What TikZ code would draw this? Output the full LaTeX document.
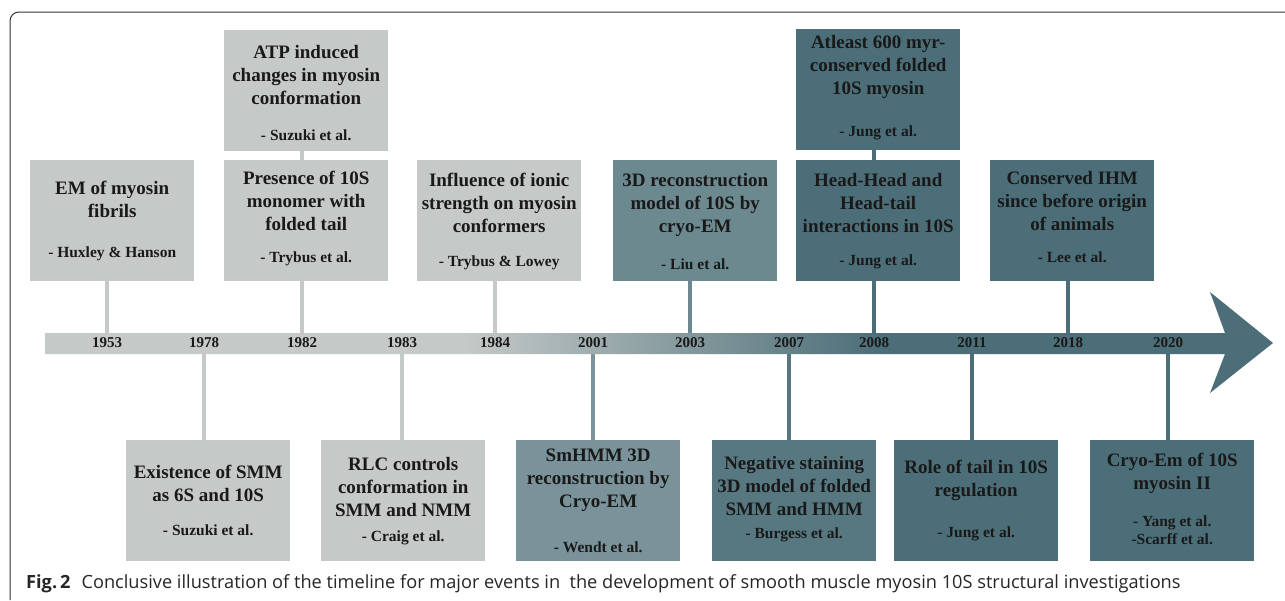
\documentclass[tikz,border=0pt]{standalone}
\usepackage{fontspec}
\setmainfont{Liberation Serif}
\newfontfamily\capfamily{Open Sans}
\newcommand\evttlfont{\fontsize{19}{23}\selectfont\bfseries}
\newcommand\evauthfont{\fontsize{15.5}{18.5}\selectfont\bfseries}
\newcommand\evyrfont{\fontsize{15}{18}\selectfont\bfseries}
\newcommand\evcapfont{\capfamily\fontsize{18.2}{21}\selectfont}
\definecolor{light}{HTML}{C5CAC8}
\definecolor{midA}{HTML}{7A939A}
\definecolor{midB}{HTML}{6D8990}
\definecolor{midC}{HTML}{587881}
\definecolor{dark}{HTML}{4C6E78}
\definecolor{framec}{HTML}{333333}
\pgfdeclarehorizontalshading{barshade}{100bp}{color(0bp)=(light); color(42bp)=(light); color(59bp)=(dark); color(100bp)=(dark)}
\tikzset{
  evbox/.style={minimum width=164pt, minimum height=121pt, inner sep=0pt, anchor=north west, draw=none},
  ttl/.style={font=\evttlfont, align=center, inner sep=0pt, text=black!90},
  auth/.style={font=\evauthfont, align=center, inner sep=0pt, text=black!90},
  yr/.style={font=\evyrfont, inner sep=0pt, text=black!90},
  stem/.style={line width=4pt},
}
\begin{document}
\begin{tikzpicture}[x=1pt,y=-1pt]
\useasboundingbox (0,0) rectangle (1285,600);
\fill[white] (0,0) rectangle (1285,600);
% frame
\draw[framec, line width=1pt, rounded corners=9pt] (10,600) -- (10,12) -- (1285,12);

% year coordinates on bar
\coordinate (y1953) at (107,343);
\coordinate (y1978) at (204,343);
\coordinate (y1982) at (302,343);
\coordinate (y1983) at (402,343);
\coordinate (y1984) at (495,343);
\coordinate (y2001) at (593,343);
\coordinate (y2003) at (690,343);
\coordinate (y2007) at (789,343);
\coordinate (y2008) at (874,343);
\coordinate (y2011) at (972,343);
\coordinate (y2018) at (1068,343);
\coordinate (y2020) at (1168,343);

% boxes
\node[evbox, fill=light] (em) at (30,160) {};
\node[evbox, fill=light] (atp) at (224,30) {};
\node[evbox, fill=light] (pres) at (224,160) {};
\node[evbox, fill=light] (infl) at (417,160) {};
\node[evbox, fill=midB] (rec) at (613,160) {};
\node[evbox, fill=dark] (atl) at (796,29) {};
\node[evbox, fill=dark] (head) at (796,160) {};
\node[evbox, fill=dark] (cons) at (990,160) {};
\node[evbox, fill=light] (exi) at (126,440) {};
\node[evbox, fill=light] (rlc) at (321,440) {};
\node[evbox, fill=midA] (smh) at (516,440) {};
\node[evbox, fill=midC] (neg) at (712,440) {};
\node[evbox, fill=dark] (role) at (894,440) {};
\node[evbox, fill=dark] (cryo) at (1090,440) {};

% stems (drawn under the bar)
\draw[stem, light] (em.south -| y1953) -- (y1953);
\draw[stem, light] (atp.south -| y1982) -- (pres.north -| y1982);
\draw[stem, light] (pres.south -| y1982) -- (y1982);
\draw[stem, light] (infl.south -| y1984) -- (y1984);
\draw[stem, midB] (rec.south -| y2003) -- (y2003);
\draw[stem, dark] (atl.south -| y2008) -- (head.north -| y2008);
\draw[stem, dark] (head.south -| y2008) -- (y2008);
\draw[stem, dark] (cons.south -| y2018) -- (y2018);
\draw[stem, light] (exi.north -| y1978) -- (y1978);
\draw[stem, light] (rlc.north -| y1983) -- (y1983);
\draw[stem, midA] (smh.north -| y2001) -- (y2001);
\draw[stem, midC] (neg.north -| y2007) -- (y2007);
\draw[stem, dark] (role.north -| y2011) -- (y2011);
\draw[stem, dark] (cryo.north -| y2020) -- (y2020);

% timeline bar with arrow
\shade[shading=barshade] (45,333) -- (1225,333) -- (1210,292) -- (1273,343) -- (1210,393) -- (1225,354) -- (45,354) -- cycle;

% years
\foreach \y in {1953,1978,1982,1983,1984,2001,2003,2007,2008,2011,2018,2020}
  \node[yr] (lbl\y) at (y\y) {\y};

% titles and authors
\node[ttl] (emT) at (em.center |- 0,199) {EM of myosin\\fibrils};
\node[auth] (emA) at (em.center |- 0,254) {- Huxley \& Hanson};
\node[ttl] (atpT) at (atp.center |- 0,75) {ATP induced\\changes in myosin\\conformation};
\node[auth] (atpA) at (atp.center |- 0,135) {- Suzuki et al.};
\node[ttl] (presT) at (pres.center |- 0,201) {Presence of 10S\\monomer with\\folded tail};
\node[auth] (presA) at (pres.center |- 0,259) {- Trybus et al.};
\node[ttl] (inflT) at (infl.center |- 0,203) {Influence of ionic\\strength on myosin\\conformers};
\node[auth] (inflA) at (infl.center |- 0,263) {- Trybus \& Lowey};
\node[ttl] (recT) at (rec.center |- 0,205) {3D reconstruction\\model of 10S by\\cryo-EM};
\node[auth] (recA) at (rec.center |- 0,264) {- Liu et al.};
\node[ttl] (atlT) at (atl.center |- 0,67) {Atleast 600 myr-\\conserved folded\\10S myosin};
\node[auth] (atlA) at (atl.center |- 0,133) {- Jung et al.};
\node[ttl] (headT) at (head.center |- 0,203) {Head-Head and\\Head-tail\\interactions in 10S};
\node[auth] (headA) at (head.center |- 0,262) {- Jung et al.};
\node[ttl] (consT) at (cons.center |- 0,201) {Conserved IHM\\since before origin\\of animals};
\node[auth] (consA) at (cons.center |- 0,257) {- Lee et al.};
\node[ttl] (exiT) at (exi.center |- 0,483) {Existence of SMM\\as 6S and 10S};
\node[auth] (exiA) at (exi.center |- 0,530) {- Suzuki et al.};
\node[ttl] (rlcT) at (rlc.center |- 0,487) {RLC controls\\conformation in\\SMM and NMM};
\node[auth] (rlcA) at (rlc.center |- 0,538) {- Craig et al.};
\node[ttl] (smhT) at (smh.center |- 0,480) {SmHMM 3D\\reconstruction by\\Cryo-EM};
\node[auth] (smhA) at (smh.center |- 0,547) {- Wendt et al.};
\node[ttl] (negT) at (neg.center |- 0,486) {Negative staining\\3D model of folded\\SMM and HMM};
\node[auth] (negA) at (neg.center |- 0,535) {- Burgess et al.};
\node[ttl] (roleT) at (role.center |- 0,480) {Role of tail in 10S\\regulation};
\node[auth] (roleA) at (role.center |- 0,534) {- Jung et al.};
\node[ttl] (cryoT) at (cryo.center |- 0,473) {Cryo-Em of 10S\\myosin II};
\node[auth] (cryoA) at (cryo.center |- 0,530) {- Yang et al.\\-Scarff et al.};

% caption
\node[anchor=base west, inner sep=0pt, font=\evcapfont, text=black!85] (cap) at (26,588)
  {\textbf{Fig.\,2}\hspace{0.6em}Conclusive illustration of the timeline for major events in\ \ the development of smooth muscle myosin 10S structural investigations};
\end{tikzpicture}
\end{document}
